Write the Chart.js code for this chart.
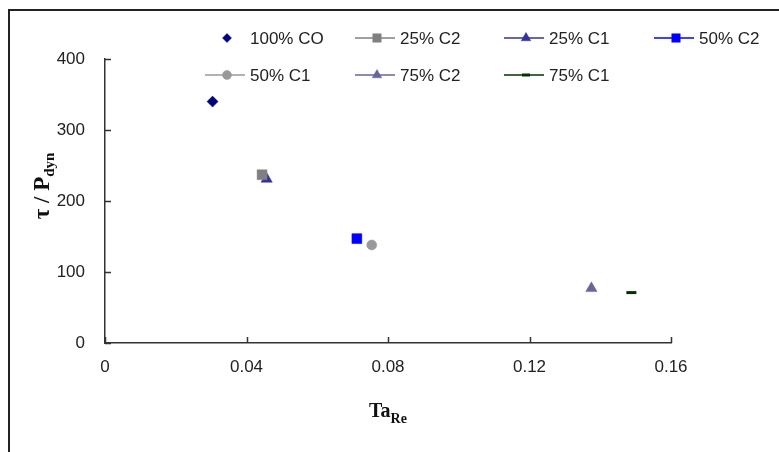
<!DOCTYPE html>
<html>
<head>
<meta charset="utf-8">
<script src="https://cdn.jsdelivr.net/npm/chart.js@4.4.1/dist/chart.umd.min.js"></script>
<style>
  html, body { margin: 0; padding: 0; background: #fff; }
  #wrap { width: 779px; height: 452px; position: relative; }
</style>
</head>
<body>
<div id="wrap"><canvas id="tauChart" width="779" height="452"></canvas></div>
<script>
// one point per mix
const seriesNames = ["100% CO", "25% C2", "25% C1", "50% C2", "50% C1", "75% C2", "75% C1"];
const taRe = [0.0304, 0.0444, 0.0457, 0.0712, 0.0754, 0.1375, 0.1488];
const tauPdyn = [340, 237, 231, 147, 138, 77, 71];
const xTicks = [0, 0.04, 0.08, 0.12, 0.16];
const yTicks = [0, 100, 200, 300, 400];

// marker look for each series
const styles = [
  { color: "#000080", pointStyle: "rectRot", radius: 5.5, legendRadius: 4.5, line: false },
  { color: "#808080", pointStyle: "rect", radius: 7, legendRadius: 6, line: true },
  { color: "#333399", pointStyle: "triangle", radius: 6.5, legendRadius: 5.5, line: true },
  { color: "#0000FF", pointStyle: "rect", radius: 7, legendRadius: 6, line: true },
  { color: "#999999", pointStyle: "circle", radius: 5, legendRadius: 4.5, line: true },
  { color: "#666699", pointStyle: "triangle", radius: 6.5, legendRadius: 5.5, line: true },
  { color: "#003300", pointStyle: "line", radius: 5, legendRadius: 4, line: true, width: 3 },
];

Chart.defaults.font.family = "'Liberation Sans', Arial, sans-serif";
Chart.defaults.color = "#222";

const datasets = seriesNames.map(function (name, i) {
  const s = styles[i];
  return {
    label: name,
    data: [{ x: taRe[i], y: tauPdyn[i] }],
    pointStyle: s.pointStyle,
    pointRadius: s.radius,
    pointHoverRadius: s.radius,
    backgroundColor: s.color,
    borderColor: s.color,
    pointBorderWidth: s.width || 0.5,
    showLine: false,
  };
});

// frame, inside ticks, axis titles and the 2-row legend
const decorPlugin = {
  id: "decor",
  afterDraw(chart) {
    const ctx = chart.ctx;
    const xs = chart.scales.x;
    const ys = chart.scales.y;
    ctx.save();

    ctx.strokeStyle = "#222";
    ctx.lineWidth = 2;
    ctx.beginPath();
    ctx.moveTo(9, 452);
    ctx.lineTo(9, 10);
    ctx.lineTo(779, 10);
    ctx.stroke();

    ctx.strokeStyle = "#333";
    ctx.lineWidth = 1.5;
    ctx.beginPath();
    yTicks.forEach(function (v) {
      const py = Math.round(ys.getPixelForValue(v)) + 0.5;
      ctx.moveTo(xs.left, py);
      ctx.lineTo(xs.left + 6, py);
    });
    xTicks.forEach(function (v) {
      const px = Math.round(xs.getPixelForValue(v)) + 0.5;
      ctx.moveTo(px, ys.bottom);
      ctx.lineTo(px, ys.bottom - 6);
    });
    ctx.stroke();

    // x title: Ta_Re
    ctx.fillStyle = "#111";
    ctx.textBaseline = "alphabetic";
    ctx.textAlign = "left";
    const bigX = "bold 20px 'Liberation Serif', 'Times New Roman', serif";
    const smallX = "bold 14px 'Liberation Serif', 'Times New Roman', serif";
    ctx.font = bigX;
    const wTa = ctx.measureText("Ta").width;
    ctx.font = smallX;
    const wRe = ctx.measureText("Re").width;
    const cx = (xs.left + xs.right) / 2;
    let sx = cx - (wTa + wRe) / 2;
    ctx.font = bigX;
    ctx.fillText("Ta", sx, 417);
    ctx.font = smallX;
    ctx.fillText("Re", sx + wTa, 423);

    // y title: tau / P_dyn
    ctx.save();
    ctx.translate(49, 186);
    ctx.rotate(-Math.PI / 2);
    const bigY = "bold 23px 'Liberation Serif', 'Times New Roman', serif";
    const smallY = "bold 15px 'Liberation Serif', 'Times New Roman', serif";
    ctx.font = bigY;
    const wMain = ctx.measureText("τ / P").width;
    ctx.font = smallY;
    const wSub = ctx.measureText("dyn").width;
    const sy = -(wMain + wSub) / 2;
    ctx.font = bigY;
    ctx.fillText("τ / P", sy, 0);
    ctx.font = smallY;
    ctx.fillText("dyn", sy + wMain, 5);
    ctx.restore();

    // legend
    const cols = [205, 355, 504, 654];
    const rows = [38, 75];
    ctx.font = "17px 'Liberation Sans', Arial, sans-serif";
    ctx.textBaseline = "middle";
    seriesNames.forEach(function (name, i) {
      const s = styles[i];
      const lx = cols[i % 4];
      const ly = rows[Math.floor(i / 4)];
      ctx.strokeStyle = s.color;
      ctx.fillStyle = s.color;
      if (s.line) {
        ctx.lineWidth = 1.5;
        ctx.beginPath();
        ctx.moveTo(lx, ly);
        ctx.lineTo(lx + 40, ly);
        ctx.stroke();
      }
      ctx.lineWidth = s.width || 0.5;
      ctx.beginPath();
      Chart.helpers.drawPoint(ctx, {
        pointStyle: s.pointStyle,
        radius: s.legendRadius,
        rotation: 0,
        borderWidth: s.width || 0.5,
      }, lx + 22, ly);
      ctx.fillStyle = "#222";
      ctx.fillText(name, lx + 45, ly + 1);
    });

    ctx.restore();
  },
};

const chartEl = document.getElementById("tauChart");
const tauChart = new Chart(chartEl, {
  type: "scatter",
  data: { datasets: datasets },
  options: {
    responsive: false,
    animation: false,
    layout: { padding: { left: 0, top: 59, right: 108, bottom: 0 } },
    plugins: {
      legend: { display: false },
      tooltip: { enabled: false },
    },
    scales: {
      x: {
        type: "linear",
        min: 0,
        max: 0.16,
        afterBuildTicks: function (scale) {
          scale.ticks = xTicks.map(function (v) { return { value: v }; });
        },
        grid: { display: false, drawTicks: false },
        border: { display: true, color: "#333", width: 1.5 },
        ticks: {
          padding: 14,
          font: { size: 17 },
          color: "#222",
          maxRotation: 0,
          callback: function (v) { return String(Number(v.toFixed(2))); },
        },
        afterFit: function (scale) { scale.height = 109; },
      },
      y: {
        type: "linear",
        min: 0,
        max: 400,
        afterBuildTicks: function (scale) {
          scale.ticks = yTicks.map(function (v) { return { value: v }; });
        },
        grid: { display: false, drawTicks: false },
        border: { display: true, color: "#333", width: 1.5 },
        ticks: {
          padding: 20,
          font: { size: 17 },
          color: "#222",
        },
        afterFit: function (scale) { scale.width = 105; },
      },
    },
  },
  plugins: [decorPlugin],
});
</script>
</body>
</html>
